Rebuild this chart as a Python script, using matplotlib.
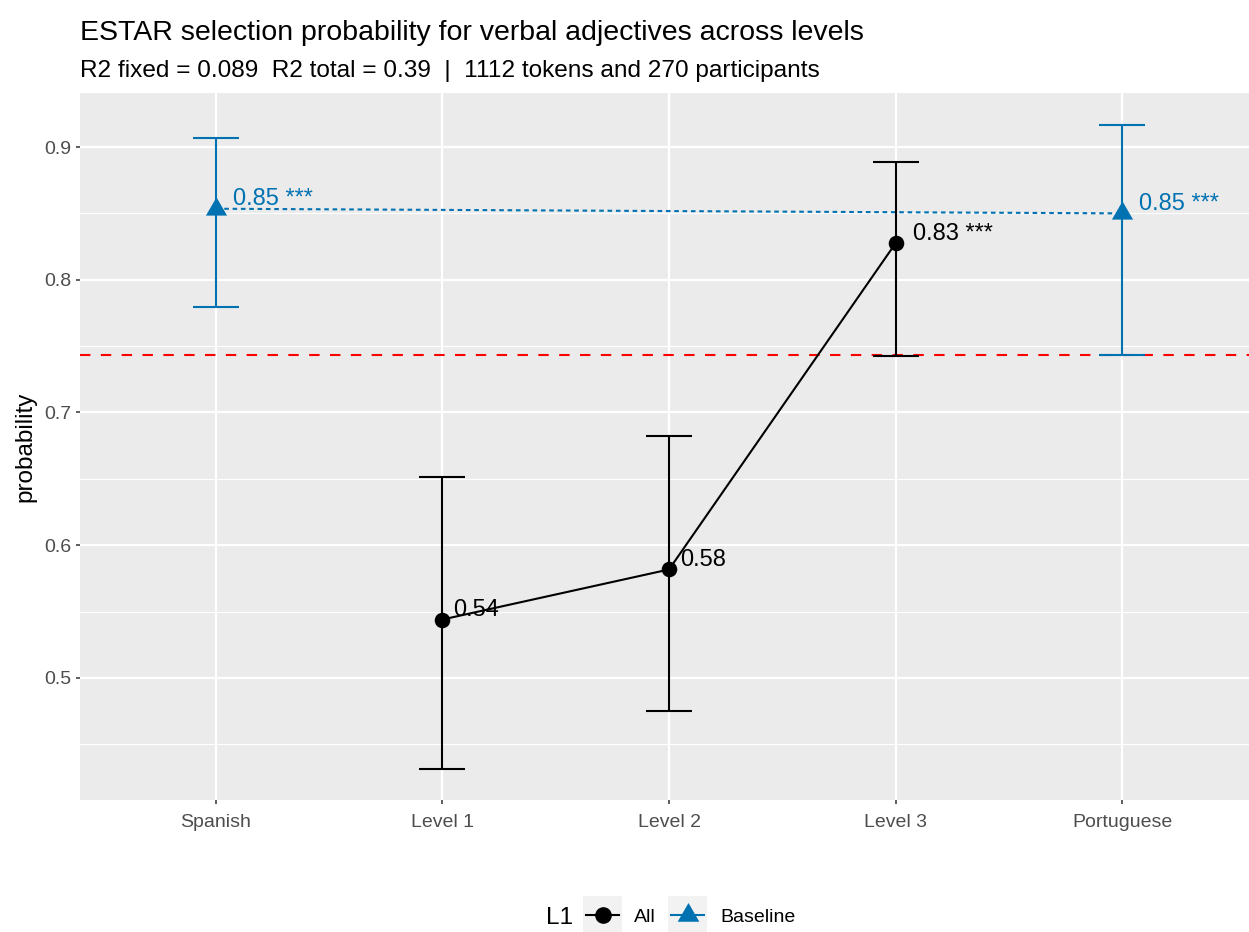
import matplotlib
matplotlib.use('Agg')
import matplotlib.pyplot as plt
from matplotlib.lines import Line2D
from matplotlib.patches import Rectangle

# ---------------- data ----------------
categories = ['Spanish', 'Level 1', 'Level 2', 'Level 3', 'Portuguese']

baseline_cats = ['Spanish', 'Portuguese']
baseline_prob = [0.8535, 0.8500]
baseline_low = [0.7793, 0.7430]
baseline_high = [0.9071, 0.9165]
baseline_labels = ['0.85 ***', '0.85 ***']

all_cats = ['Level 1', 'Level 2', 'Level 3']
all_prob = [0.5440, 0.5817, 0.8275]
all_low = [0.4312, 0.4749, 0.7427]
all_high = [0.6517, 0.6820, 0.8887]
all_labels = ['0.54', '0.58', '0.83 ***']

reference_value = 0.7432
yticks = [0.5, 0.6, 0.7, 0.8, 0.9]
yminor = [0.45, 0.55, 0.65, 0.75, 0.85]

title = 'ESTAR selection probability for verbal adjectives across levels'
subtitle = 'R2 fixed = 0.089  R2 total = 0.39  |  1112 tokens and 270 participants'
legend_title = 'L1'
legend_labels = ['All', 'Baseline']

# ---------------- style ----------------
W, H = 1249, 932
plt.rcParams['font.family'] = ['Liberation Sans', 'DejaVu Sans']
BLUE = '#0072B2'
BLACK = '#000000'
TRI = [(0, 1), (-0.866, -0.5), (0.866, -0.5)]

fig = plt.figure(figsize=(W / 100, H / 100), dpi=100)


def fx(x):
    return x / W


def fy(y):
    return 1 - y / H


ax = fig.add_axes([fx(80), fy(800), fx(1249) - fx(80), fy(93) - fy(800)])
ax.set_facecolor('#EBEBEB')
for s in ax.spines.values():
    s.set_visible(False)

pos = {c: i for i, c in enumerate(categories)}
ax.set_xlim(-0.6, 4.56)
ax.set_ylim(0.408, 0.9407)

# grid
for v in yminor:
    ax.axhline(v, color='white', lw=0.8, zorder=0)
for v in yticks:
    ax.axhline(v, color='white', lw=1.6, zorder=0)
for i in range(len(categories)):
    ax.axvline(i, color='white', lw=1.6, zorder=0)

ax.set_xticks(range(len(categories)))
ax.set_xticklabels(categories)
ax.set_yticks(yticks)
ax.set_yticklabels([f'{v:g}' for v in yticks])
ax.tick_params(axis='both', length=3.2, width=1.1, color='#333333',
               labelcolor='#4D4D4D', labelsize=14)
ax.tick_params(axis='x', pad=7)
ax.tick_params(axis='y', pad=3)

# reference line
ax.axhline(reference_value, color='#FF0000', lw=1.5, ls=(0, (5, 5)), zorder=2)

# baseline group
bx = [pos[c] for c in baseline_cats]
ax.plot(bx, baseline_prob, color=BLUE, lw=1.5, ls=(0, (2.2, 1.8)), zorder=3)
ax.errorbar(bx, baseline_prob,
            yerr=[[p - l for p, l in zip(baseline_prob, baseline_low)],
                  [h - p for p, h in zip(baseline_prob, baseline_high)]],
            fmt='none', ecolor=BLUE, elinewidth=1.5, capsize=16.5, capthick=1.5, zorder=4)
ax.plot(bx, baseline_prob, ls='none', marker=TRI, markersize=17.6, color=BLUE,
        markeredgewidth=0, zorder=5)

# all group
axx = [pos[c] for c in all_cats]
ax.plot(axx, all_prob, color=BLACK, lw=1.5, zorder=3)
ax.errorbar(axx, all_prob,
            yerr=[[p - l for p, l in zip(all_prob, all_low)],
                  [h - p for p, h in zip(all_prob, all_high)]],
            fmt='none', ecolor=BLACK, elinewidth=1.5, capsize=16.5, capthick=1.5, zorder=4)
ax.plot(axx, all_prob, ls='none', marker='o', markersize=11.2, color=BLACK,
        markeredgewidth=0, zorder=5)

# labels
for x, y, t in zip(bx, baseline_prob, baseline_labels):
    dx = 17 if '*' in t else 11
    ax.annotate(t, (x, y), xytext=(dx, 3.5), textcoords='offset pixels',
                ha='left', va='baseline', fontsize=17, color=BLUE, zorder=6)
for x, y, t in zip(axx, all_prob, all_labels):
    dx = 17 if '*' in t else 11
    ax.annotate(t, (x, y), xytext=(dx, 3.5), textcoords='offset pixels',
                ha='left', va='baseline', fontsize=17, color=BLACK, zorder=6)

# titles
fig.text(fx(80), fy(40), title, fontsize=20.5, ha='left', va='baseline', color='black')
fig.text(fx(80), fy(77), subtitle, fontsize=17.6, ha='left', va='baseline', color='black')
fig.text(fx(25), fy(446.5), 'probability', fontsize=17.5, rotation=90,
         ha='center', va='center', color='black')

# legend (manual, ggplot-like)
fig.text(fx(546), fy(923.5), legend_title, fontsize=17.5, ha='left', va='baseline')
keys = [(583, BLACK, 'o', 12, legend_labels[0], 634),
        (668, BLUE, TRI, 18, legend_labels[1], 720)]
for kx, col, mk, ms, lab, tx in keys:
    fig.patches.append(Rectangle((fx(kx), fy(934)), fx(39), 38 / H,
                                 transform=fig.transFigure, facecolor='#F2F2F2',
                                 edgecolor='none'))
    fig.lines.append(Line2D([fx(kx + 3), fx(kx + 36)], [fy(915), fy(915)],
                            transform=fig.transFigure, color=col, lw=1.5))
    fig.lines.append(Line2D([fx(kx + 19.5)], [fy(915)], transform=fig.transFigure,
                            color=col, marker=mk, markersize=ms, markeredgewidth=0, ls='none'))
    fig.text(fx(tx), fy(922), lab, fontsize=14, ha='left', va='baseline')

fig.savefig('out.png', dpi=100)
